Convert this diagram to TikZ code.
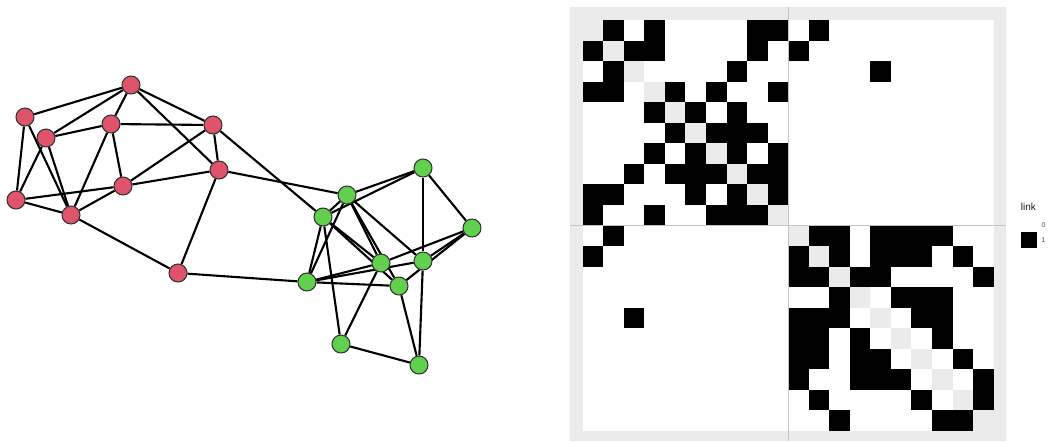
\documentclass[tikz,border=0pt]{standalone}
\usepackage{fontspec}
\setsansfont{Liberation Sans}
\usetikzlibrary{backgrounds}
\definecolor{vred}{HTML}{DF536B}
\definecolor{vgreen}{HTML}{61D04F}
\definecolor{panelgrey}{HTML}{EBEBEB}
\definecolor{gridgrey}{HTML}{C4C4C4}
% links of the network, also used for the adjacency matrix
\newcommand\linklist{0/1,0/3,0/8,0/9,0/11,1/2,1/3,1/8,1/10,2/7,2/14,3/4,3/6,3/9,4/5,4/7,5/6,5/7,5/8,6/7,6/9,7/8,7/9,8/9,
  10/11,10/12,10/14,10/15,10/16,10/17,11/12,11/14,11/15,11/16,11/18,12/13,12/14,12/19,13/15,13/16,13/17,14/16,14/17,15/17,16/18,17/19,18/19}
\tikzset{
    netplot/.style={x=0.02cm, y=-0.02cm},
    vertex/.style={draw=black!80, line width=0.6pt, circle, minimum size=0.36cm, inner sep=0pt},
    redv/.style={vertex, fill=vred},
    greenv/.style={vertex, fill=vgreen},
    link/.style={line width=1.2pt},
    tile/.style={fill=black},
    diagtile/.style={fill=panelgrey},
    gridline/.style={draw=gridgrey, line width=0.5pt},
    legendtitle/.style={font=\sffamily\fontsize{5.7}{6}\selectfont, text=black!90, inner sep=0pt, anchor=base west},
    legendtext/.style={font=\sffamily\fontsize{4}{5}\selectfont, text=black!70, inner sep=0pt, anchor=base west},
}

\begin{document}
\begin{tikzpicture}[netplot]
    \useasboundingbox (0,0) rectangle (1048,441);

    % network
    \node[redv] (v0) at (213,125) {};
    \node[redv] (v1) at (219,170) {};
    \node[redv] (v2) at (178,273) {};
    \node[redv] (v3) at (131,85) {};
    \node[redv] (v4) at (25,117) {};
    \node[redv] (v5) at (16,200) {};
    \node[redv] (v6) at (46,138) {};
    \node[redv] (v7) at (71,215) {};
    \node[redv] (v8) at (123,186) {};
    \node[redv] (v9) at (111,124) {};
    \node[greenv] (v10) at (347,195) {};
    \node[greenv] (v11) at (323,217) {};
    \node[greenv] (v12) at (399,286) {};
    \node[greenv] (v13) at (472,228) {};
    \node[greenv] (v14) at (307,282) {};
    \node[greenv] (v15) at (423,168) {};
    \node[greenv] (v16) at (381,263) {};
    \node[greenv] (v17) at (423,261) {};
    \node[greenv] (v18) at (341,344) {};
    \node[greenv] (v19) at (419,365) {};
    \begin{scope}[on background layer]
        \foreach \a/\b in \linklist
            \draw[link] (v\a) -- (v\b);
    \end{scope}

    % adjacency matrix
    \fill[panelgrey] (570,6.7) rectangle (1006,441);
    \fill[white] (582.7,20) rectangle (993.7,431);
    \begin{scope}[shift={(582.7,20)}, x=0.411cm, y=-0.411cm]
        \foreach \k in {0,...,19}
            \fill[diagtile] (\k,\k) rectangle ++(1,1);
        \foreach \a/\b in \linklist {
            \fill[tile] (\b,\a) rectangle ++(1,1);
            \fill[tile] (\a,\b) rectangle ++(1,1);
        }
    \end{scope}
    \draw[gridline] (788.2,6.7) -- (788.2,441);
    \draw[gridline] (570,225.3) -- (1006,225.3);

    % legend
    \node[legendtitle] (ltitle) at (1020.6,210.7) {link};
    \fill[white] (1020.8,216.5) rectangle (1036.7,232);
    \fill[black] (1020.8,232) rectangle (1036.7,247.5);
    \node[legendtext] (lzero) at (1041.3,227.3) {0};
    \node[legendtext] (lone) at (1041.1,242.3) {1};
\end{tikzpicture}
\end{document}
